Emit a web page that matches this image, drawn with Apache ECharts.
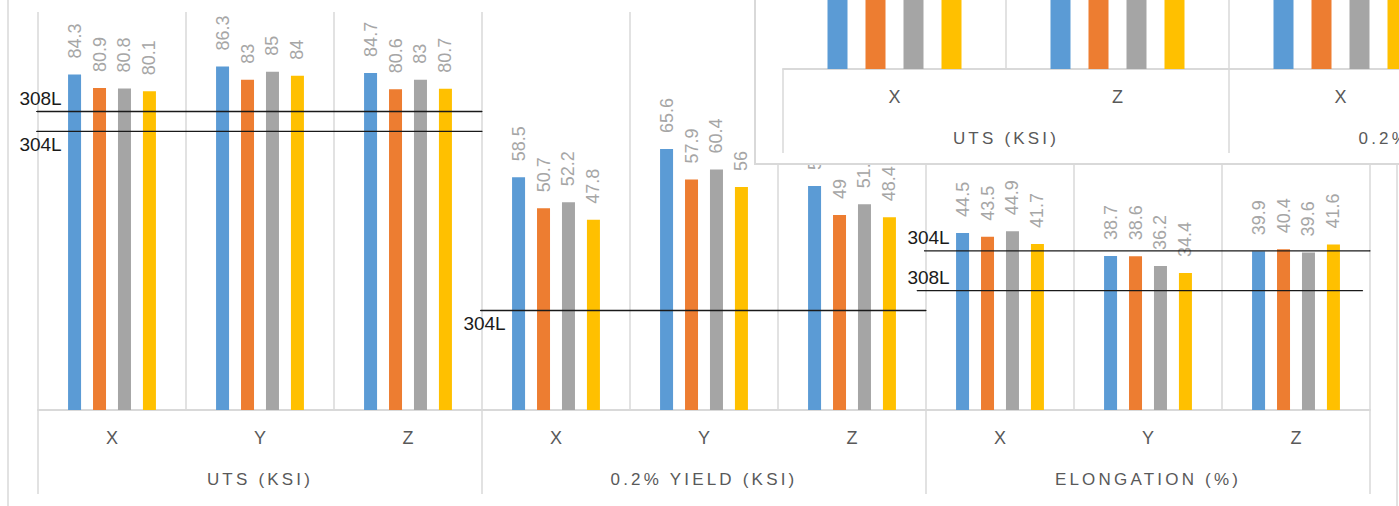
<!DOCTYPE html>
<html>
<head>
<meta charset="utf-8">
<script src="https://cdn.jsdelivr.net/npm/echarts@6/dist/echarts.min.js"></script>
<style>
  html, body { margin: 0; padding: 0; background: #ffffff; }
  #main { width: 1399px; height: 506px; }
</style>
</head>
<body>
<div id="main"></div>
<script>
// ---------------- data ----------------
const categories = ['X', 'Y', 'Z'];
const groups = ['UTS (KSI)', '0.2% YIELD (KSI)', 'ELONGATION (%)'];
// one value per (group, direction): UTS X,Y,Z | Yield X,Y,Z | Elongation X,Y,Z
const seriesBlue   = [84.3, 86.3, 84.7, 58.5, 65.6, 56.3, 44.5, 38.7, 39.9];
const seriesOrange = [80.9, 83.0, 80.6, 50.7, 57.9, 49.0, 43.5, 38.6, 40.4];
const seriesGray   = [80.8, 85.0, 83.0, 52.2, 60.4, 51.7, 44.9, 36.2, 39.6];
const seriesYellow = [80.1, 84.0, 80.7, 47.8, 56.0, 48.4, 41.7, 34.4, 41.6];
// minimum spec values per group (null = not drawn)
const spec308L = [75, null, 30];
const spec304L = [70, 25, 40];
// inset copy of the chart shows only the X and Z directions
const insetCategories = ['X', 'Z'];

// ---------------- styles ----------------
const FONT = 'Liberation Sans, Arial, sans-serif';
const colors = ['#5b9bd5', '#ed7d31', '#a5a5a5', '#ffc000'];
const gridLine = '#d9d9d9';
const allSeries = [seriesBlue, seriesOrange, seriesGray, seriesYellow];

const mainCats = [];
groups.forEach(() => categories.forEach(c => mainCats.push(c)));
const insetCats = [];
groups.forEach(() => insetCategories.forEach(c => insetCats.push(c)));
const insetIdx = insetCategories.map(c => categories.indexOf(c));
const pickInset = arr => {
  const out = [];
  groups.forEach((g, gi) => insetIdx.forEach(i => out.push(arr[gi * categories.length + i])));
  return out;
};

const series = [];
allSeries.forEach((arr, k) => {
  series.push({
    type: 'bar', xAxisIndex: 0, yAxisIndex: 0, z: 2,
    data: arr, barWidth: 13, barGap: '92%',
    itemStyle: { color: colors[k] },
    label: {
      show: true, position: 'top', rotate: 90, align: 'left', verticalAlign: 'middle',
      distance: 16, color: '#a6a6a6', fontSize: 18, fontFamily: FONT
    }
  });
});

function refLine(name, vals, placement, shifts) {
  vals.forEach((v, gi) => {
    if (v == null) return;
    const from = gi * categories.length - 0.01 + shifts[gi];
    const to = (gi + 1) * categories.length + shifts[gi];
    const pos = placement[gi];
    series.push({
      type: 'line', xAxisIndex: 2, yAxisIndex: 0, z: 4, clip: false,
      symbol: 'circle', symbolSize: 1, showSymbol: true,
      lineStyle: { color: '#1a1a1a', width: 1.3 },
      itemStyle: { color: '#1a1a1a' },
      label: { show: false },
      data: [
        { value: [from, v], label: { show: true, position: pos, distance: 3,
          offset: [4 - shifts[gi] * 148, 0],
          formatter: name, color: '#1a1a1a', fontSize: 19, fontFamily: FONT } },
        [to, v]
      ]
    });
  });
}
refLine('308L', spec308L, ['top', 'top', 'top'], [0, 0, -0.05]);
refLine('304L', spec304L, ['bottom', 'bottom', 'top'], [0, 0, 0]);

allSeries.forEach((arr, k) => {
  series.push({
    type: 'bar', xAxisIndex: 3, yAxisIndex: 1, z: 52,
    data: pickInset(arr), barWidth: 20, barGap: '90%',
    itemStyle: { color: colors[k] }
  });
});

const catLabel = { color: '#595959', fontSize: 18, fontFamily: FONT, interval: 0 };
const groupLabel = { color: '#595959', fontSize: 17, fontFamily: FONT, interval: 0 };

const option = {
  animation: false,
  backgroundColor: '#ffffff',
  grid: [
    { left: 38, top: 12, width: 1332, height: 398, outerBoundsMode: 'none', containLabel: false },
    { left: 783, top: -528, width: 1338, height: 597, outerBoundsMode: 'none', containLabel: false }
  ],
  xAxis: [
    { type: 'category', gridIndex: 0, data: mainCats, position: 'bottom',
      axisLine: { lineStyle: { color: gridLine, width: 2 } },
      axisTick: { show: false },
      axisLabel: Object.assign({}, catLabel, { margin: 19 }),
      splitLine: { show: true, interval: 0, lineStyle: { color: gridLine, width: 1.5 } } },
    { type: 'category', gridIndex: 0, data: groups, position: 'bottom',
      axisLine: { show: false },
      axisTick: { show: true, interval: 0, length: 84, lineStyle: { color: gridLine, width: 1.5 } },
      axisLabel: Object.assign({}, groupLabel, { margin: 61 }),
      splitLine: { show: false } },
    { type: 'value', gridIndex: 0, min: 0, max: 9, show: false },
    { type: 'category', gridIndex: 1, data: insetCats, position: 'bottom', z: 51,
      axisLine: { lineStyle: { color: gridLine, width: 2 } },
      axisTick: { show: false },
      // labels of the inset beyond the visible window are not drawn
      axisLabel: Object.assign({}, catLabel, { margin: 19, interval: (i) => i < 3 }),
      splitLine: { show: true, interval: 0, showMinLine: false, lineStyle: { color: gridLine, width: 1.5 } } },
    { type: 'category', gridIndex: 1, data: groups, position: 'bottom', z: 51,
      axisLine: { show: false },
      axisTick: { show: true, interval: 0, length: 84, lineStyle: { color: gridLine, width: 1.5 } },
      axisLabel: Object.assign({}, groupLabel, { margin: 61, interval: (i) => i < 2 }),
      splitLine: { show: false } }
  ],
  yAxis: [
    { type: 'value', gridIndex: 0, min: 0, max: 100, show: false },
    { type: 'value', gridIndex: 1, min: 0, max: 100, show: false }
  ],
  graphic: [
    { type: 'rect', z: 0, silent: true,
      shape: { x: 8, y: -5, width: 1389, height: 530 },
      style: { fill: 'none', stroke: gridLine, lineWidth: 1.5 } },
    { type: 'rect', z: 50, silent: true,
      shape: { x: 755, y: -5, width: 700, height: 169 },
      style: { fill: '#ffffff', stroke: gridLine, lineWidth: 2 } }
  ],
  series: series
};

const chart = echarts.init(document.getElementById('main'), null, { renderer: 'svg' });
chart.setOption(option);

function spaceGroupLabels() {
  document.querySelectorAll('#main text').forEach(t => {
    if (groups.includes(t.textContent.trim())) {
      t.setAttribute('letter-spacing', '3.2');
    }
  });
}
chart.on('finished', spaceGroupLabels);
spaceGroupLabels();
</script>
</body>
</html>
